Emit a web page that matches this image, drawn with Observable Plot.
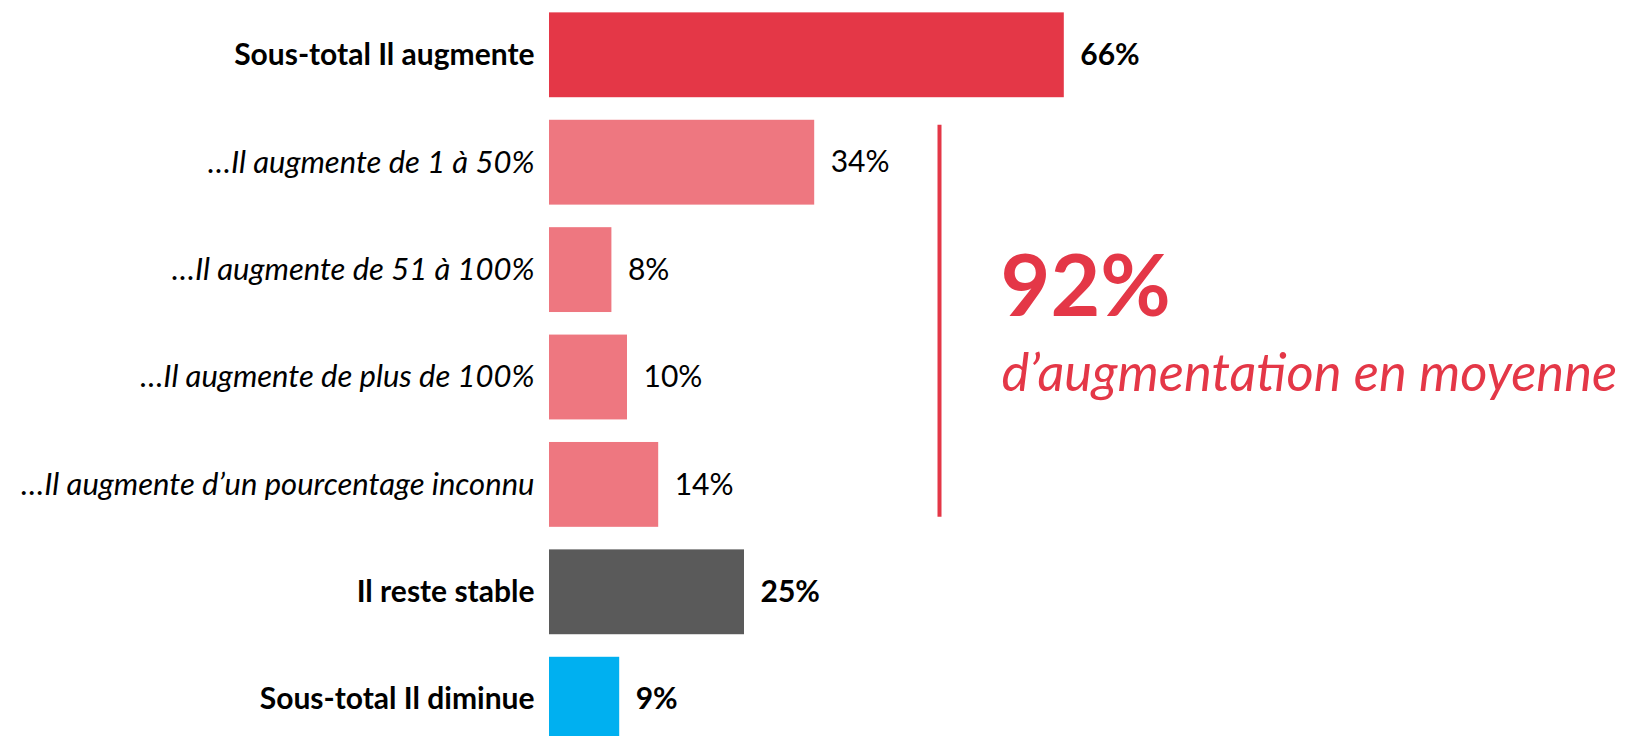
<!DOCTYPE html>
<html><head><meta charset="utf-8">
<script src="https://cdn.jsdelivr.net/npm/d3@7"></script>
<script src="https://cdn.jsdelivr.net/npm/@observablehq/plot@0.6"></script>
<style>
html,body{margin:0;padding:0;background:#fff;overflow:hidden;}
#chart svg{display:block;}
</style></head><body><div id="chart"></div>
<script>
// ---- data ----
const categories = [
  "Sous-total Il augmente",
  "…Il augmente de 1 à 50%",
  "…Il augmente de 51 à 100%",
  "…Il augmente de plus de 100%",
  "…Il augmente d’un pourcentage inconnu",
  "Il reste stable",
  "Sous-total Il diminue"
];
const values = [66, 34, 8, 10, 14, 25, 9];
const groups = ["total", "detail", "detail", "detail", "detail", "stable", "decrease"];
const groupNames = ["total", "detail", "stable", "decrease"];
const groupColors = ["#E43747", "#EE7780", "#5A5A5A", "#00B0F0"];
const annotationValue = "92%";
const annotationLabel = "d’augmentation en moyenne";
const annotationX = 50;           // position of the bracket on the % axis
const bracketFrom = categories[1];
const bracketTo = categories[4];

const rows = categories.map((c, i) => ({category: c, value: values[i], group: groups[i]}));
const isDetail = d => d.group === "detail";
const red = "#E43747";

const chart = Plot.plot({
  width: 1625,
  height: 748,
  marginLeft: 549,
  marginRight: 296,
  marginTop: 7,
  marginBottom: 1,
  style: {fontFamily: "Lato, sans-serif", background: "#fff"},
  x: {domain: [0, 100], axis: null},
  y: {domain: categories, axis: null, paddingInner: 0.21, paddingOuter: 0.05, round: false},
  color: {domain: groupNames, range: groupColors},
  marks: [
    Plot.barX(rows, {x: "value", y: "category", fill: "group"}),
    // category labels
    Plot.text(rows.filter(d => !isDetail(d)), {x: () => 0, y: "category", text: "category", textAnchor: "end", dx: -15, fontSize: 30, fontWeight: 700, fill: "#000"}),
    Plot.text(rows.filter(isDetail), {x: () => 0, y: "category", text: "category", textAnchor: "end", dx: -15, fontSize: 31, fontStyle: "italic", fill: "#000"}),
    // value labels
    Plot.text(rows.filter(d => !isDetail(d)), {x: "value", y: "category", text: d => d.value + "%", textAnchor: "start", dx: 16, fontSize: 30, fontWeight: 700, fill: "#000"}),
    Plot.text(rows.filter(isDetail), {x: "value", y: "category", text: d => d.value + "%", textAnchor: "start", dx: 16, fontSize: 30, fill: "#000"}),
    // bracket + annotation
    Plot.ruleX([annotationX], {x: d => d, y1: () => bracketFrom, y2: () => bracketTo, stroke: red, strokeWidth: 4, insetTop: 5, insetBottom: 10}),
    Plot.text([annotationValue], {x: () => annotationX, y: () => categories[2], text: d => d, textAnchor: "start", lineAnchor: "bottom", dx: 61, dy: 46, fontSize: 86, fontWeight: 700, fill: red}),
    Plot.text([annotationLabel], {x: () => annotationX, y: () => categories[3], text: d => d, textAnchor: "start", lineAnchor: "bottom", dx: 62, dy: 13, fontSize: 52.5, fontStyle: "italic", fill: red})
  ]
});
document.getElementById("chart").appendChild(chart);
</script>
</body></html>
